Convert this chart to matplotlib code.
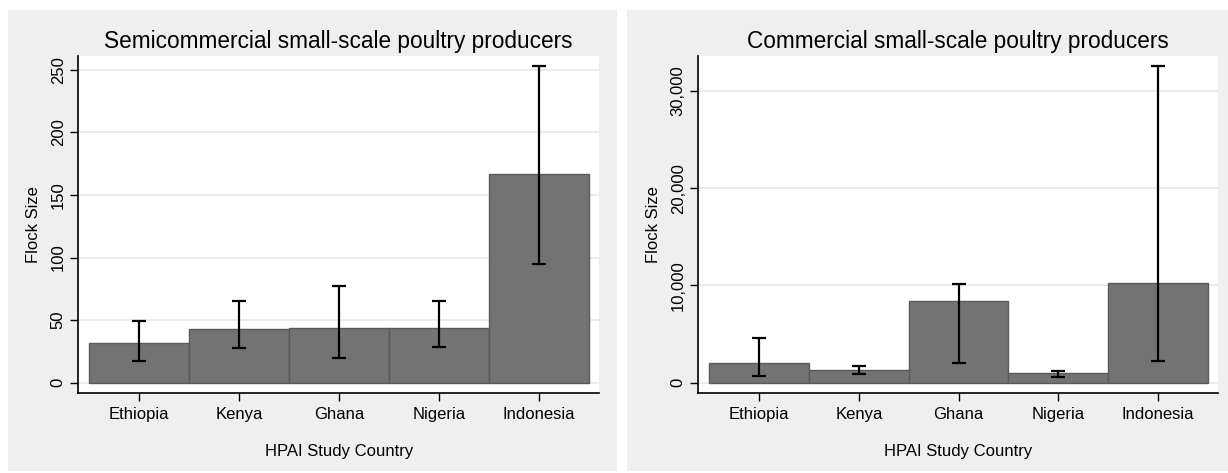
import matplotlib.pyplot as plt
from matplotlib.patches import Rectangle
from matplotlib.ticker import FuncFormatter

countries = ['Ethiopia', 'Kenya', 'Ghana', 'Nigeria', 'Indonesia']

# semicommercial: mean flock size with lower/upper CI
semi_mean = [31.5, 42.5, 44, 43.5, 167]
semi_lo = [17.5, 28, 20, 28.5, 95]
semi_hi = [49, 65.5, 77.5, 65.5, 253]

# commercial
comm_mean = [2000, 1300, 8370, 970, 10220]
comm_lo = [720, 925, 2030, 590, 2230]
comm_hi = [4560, 1750, 10140, 1230, 32550]

plt.rcParams['font.family'] = ['Liberation Sans', 'DejaVu Sans']

fig = plt.figure(figsize=(12.28, 4.73), dpi=100)
fig.patch.set_facecolor('white')

# gray panel backgrounds like stata graph regions
H = 473.0
W = 1228.0
for x0, x1 in [(8, 617), (627, 1228)]:
    fig.add_artist(Rectangle((x0 / W, 1 - 471 / H), (x1 - x0) / W, (471 - 10) / H,
                             transform=fig.transFigure, facecolor='#efefef',
                             edgecolor='none', zorder=-10))

bot = (H - 392.7) / H
top = (H - 56) / H
ax1 = fig.add_axes([78.3 / W, bot, (599 - 78.3) / W, top - bot])
ax2 = fig.add_axes([698.2 / W, bot, (1218 - 698.2) / W, top - bot])


def draw(ax, mean, lo, hi, title, ylim, xlim, yticks, fmt):
    x = list(range(1, len(countries) + 1))
    yerr = [[m - l for m, l in zip(mean, lo)], [h - m for m, h in zip(mean, hi)]]
    ax.set_facecolor('white')
    ax.bar(x, mean, width=1.0, color='#737373', edgecolor='#5a5a5a', linewidth=1.0, zorder=2)
    ax.errorbar(x, mean, yerr=yerr, fmt='none', ecolor='black', elinewidth=1.6,
                capsize=5, capthick=1.6, zorder=3)
    ax.set_xlim(*xlim)
    ax.set_ylim(*ylim)
    ax.set_xticks(x)
    ax.set_xticklabels(countries, fontsize=12)
    ax.set_yticks(yticks)
    ax.yaxis.set_major_formatter(FuncFormatter(fmt))
    for lab in ax.get_yticklabels():
        lab.set_rotation(90)
        lab.set_va('center')
    ax.tick_params(axis='y', labelsize=12, length=6, width=1, pad=3)
    ax.tick_params(axis='x', length=6, width=1, pad=4)
    ax.grid(axis='y', color='#e8e8e8', linewidth=1.2, zorder=0)
    ax.set_axisbelow(True)
    for s in ['top', 'right']:
        ax.spines[s].set_visible(False)
    ax.spines['left'].set_linewidth(1.2)
    ax.spines['bottom'].set_linewidth(1.2)
    ax.set_ylabel('Flock Size', fontsize=12, labelpad=7)
    ax.set_xlabel('HPAI Study Country', fontsize=12, labelpad=16)
    ax.set_title(title, fontsize=16.3, pad=6)


draw(ax1, semi_mean, semi_lo, semi_hi, 'Semicommercial small-scale poultry producers',
     (-8, 261), (0.39, 5.6), [0, 50, 100, 150, 200, 250], lambda v, p: f'{v:.0f}')
draw(ax2, comm_mean, comm_lo, comm_hi, 'Commercial small-scale poultry producers',
     (-1028, 33580), (0.39, 5.6), [0, 10000, 20000, 30000], lambda v, p: f'{v:,.0f}')

fig.savefig('out.png', dpi=100, facecolor=fig.get_facecolor())
